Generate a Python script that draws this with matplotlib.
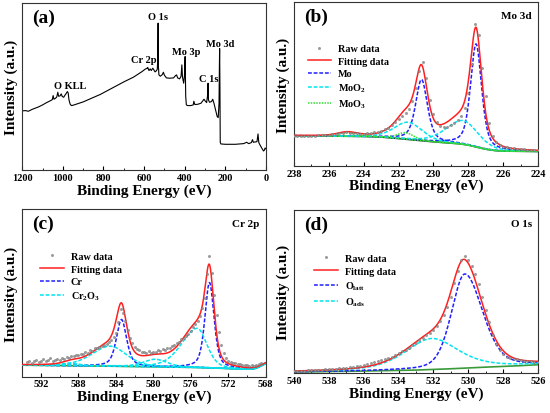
import numpy as np
import matplotlib.pyplot as plt
from matplotlib.lines import Line2D
from matplotlib.ticker import MultipleLocator

plt.rcParams['font.family'] = 'Liberation Serif'
plt.rcParams['font.weight'] = 'bold'
plt.rcParams['axes.labelweight'] = 'bold'
plt.rcParams['mathtext.fontset'] = 'custom'
plt.rcParams['mathtext.rm'] = 'Liberation Serif:bold'
plt.rcParams['mathtext.bf'] = 'Liberation Serif:bold'
plt.rcParams['mathtext.default'] = 'bf'

# ---------------- (a) survey spectrum ----------------
survey_e = [1200, 1185, 1170, 1150, 1120, 1100, 1080, 1060, 1052, 1048, 1044, 1036,
            1030, 1025, 1021, 1014, 1008, 1003, 996, 990, 984, 978, 974, 970, 964,
            958, 950, 930, 900, 870, 840, 817, 780, 740, 700, 653, 630, 610, 595,
            585, 582, 576, 570, 565, 557, 552, 546, 540, 535, 533, 531, 529.5, 527,
            520, 510, 505, 500, 490, 475, 455, 445, 440, 435, 425, 418, 414, 411,
            405, 401, 398, 395, 392, 385, 370, 358, 355, 350, 335, 320, 310, 305,
            298, 292, 288, 285, 283, 278, 268, 262, 256, 248, 240, 235, 231, 229,
            228, 226.5, 225, 222, 200, 150, 110, 95, 85, 72, 66, 62, 52, 44, 39,
            35, 30, 20, 12, 8, 4, 0]
survey_i = [35.4, 35.6, 35.2, 36.4, 37.8, 39.0, 40.4, 41.6, 42.2, 44.6, 42.4, 43.0,
            43.8, 46.6, 44.2, 44.4, 45.6, 44.0, 43.6, 44.8, 45.8, 47.0, 46.2, 42.0, 39.4,
            38.6, 38.8, 39.6, 40.8, 42.4, 44.0, 45.2, 47.6, 50.2, 52.8, 55.6, 57.4, 59.0, 60.4,
            61.0, 61.4, 59.6, 60.6, 59.6, 61.0, 60.0, 58.8, 59.4, 60.4, 66.0, 88.0, 62.0, 57.0,
            56.2, 57.2, 58.6, 56.8, 55.2, 55.0, 55.2, 56.6, 57.0, 55.2, 54.6, 56.2, 63.0, 55.6,
            52.0, 57.0, 68.0, 44.0, 39.0, 38.6, 38.6, 39.0, 41.2, 39.2, 39.4, 40.0, 41.6, 42.4,
            41.2, 40.4, 44.0, 52.0, 42.0, 40.6, 41.0, 42.4, 40.0, 36.0, 32.0, 31.4, 40.0, 64.0,
            72.8, 50.0, 16.6, 15.6, 15.4, 15.4, 15.8, 16.6, 15.8, 16.4, 18.2, 16.6, 16.8, 17.0, 21.6,
            16.4, 15.2, 13.0, 11.4, 11.8, 13.2, 12.6]
survey_labels = ['O KLL', 'Cr 2p', 'O 1s', 'Mo 3p', 'C 1s', 'Mo 3d']
survey_label_e = [965, 603, 534, 395, 283, 227]
survey_label_i = [48, 63.4, 89.4, 68.4, 52, 73.4]

# ---------------- (b) Mo 3d ----------------
mo_raw_range = (238.0, 224.0)
mo_raw = [18.4, 18.3, 18.5, 18.4, 18.3,
          18.5, 18.5, 18.7, 18.8, 18.9,
          19.1, 19.3, 19.6, 19.9, 20.3,
          20.5, 20.3, 20.1, 19.8, 19.7,
          19.6, 19.8, 20.1, 20.6, 21.0,
          21.6, 22.3, 23.4, 24.8, 26.6,
          28.4, 30.2, 32.3, 34.9, 39.6,
          47.5, 58.0, 63.6, 53.5, 40.0,
          31.4, 26.8, 24.6, 23.9, 23.9,
          24.8, 26.1, 27.9, 30.6, 35.6,
          44.5, 62.5, 86.5, 80.0, 60.0,
          42.5, 26.5, 18.0, 14.4, 12.7,
          11.8, 11.3, 11.0, 10.7, 10.4,
          10.2, 10.0, 9.9, 9.8, 9.7,
          9.6]
mo_bg_e = [238, 236, 234, 233, 232, 231, 230, 229, 228.5, 228, 227.5, 227, 226.5, 226, 224]
mo_bg_i = [18.4, 18.2, 18.0, 17.6, 16.7, 15.7, 14.7, 13.9, 13.5, 12.7, 11.4, 10.2, 9.4, 9.0, 8.8]
# fitted components: center, height, width on low/high BE side, lorentz fraction
mo_names = ['Mo', 'Mo', 'MoO$_2$', 'MoO$_2$', 'MoO$_3$', 'MoO$_3$']
mo_center = [227.55, 230.68, 228.3, 231.45, 231.6, 234.95]
mo_height = [63.0, 37.4, 14.5, 10.5, 4.0, 2.2]
mo_wlow = [0.75, 0.8, 2.0, 1.9, 1.1, 1.3]
mo_whigh = [0.75, 0.8, 2.3, 1.9, 1.1, 1.3]
mo_eta = [0.5, 0.5, 0.3, 0.3, 0.3, 0.3]

# ---------------- (c) Cr 2p ----------------
cr_raw_range = (593.5, 568.5)
cr_raw = [8.9, 9.6, 8.4, 9.3,
          10.0, 8.9, 9.5, 10.3,
          9.2, 9.9, 11.0, 9.6,
          10.2, 10.8, 10.0, 11.2,
          10.6, 11.8, 11.3, 12.4,
          12.0, 12.9, 12.6, 13.5,
          13.4, 14.6, 14.3, 15.6,
          15.4, 16.8, 16.9, 17.6,
          18.3, 18.9, 19.6, 20.4,
          21.8, 23.6, 26.0, 32.5,
          40.5, 38.0, 33.0, 27.8,
          22.9, 19.8, 17.5, 16.2,
          15.8, 14.6, 14.9, 14.2,
          15.0, 14.1, 14.8, 14.4,
          15.6, 15.0, 16.2, 15.9,
          17.3, 16.9, 18.0, 18.6,
          19.8, 20.9, 22.4, 23.1,
          24.5, 25.6, 27.4, 29.6,
          31.2, 33.5, 36.0, 40.8,
          47.0, 61.5, 72.0, 62.0,
          49.0, 37.0, 26.8, 18.9,
          13.8, 10.9, 9.3, 8.8,
          8.2, 8.0, 7.4, 7.3,
          7.0, 6.9, 6.9, 6.6,
          6.8, 6.6, 7.0, 7.3,
          8.1]
cr_bg_e = [594, 590, 586, 582, 578, 575, 573, 571, 570, 569.5, 569, 568.5, 568]
cr_bg_i = [6.8, 6.6, 6.3, 6.0, 5.7, 5.4, 5.0, 4.6, 4.4, 4.5, 5.0, 6.3, 7.8]
cr_names = ['Cr', 'Cr', 'Cr$_2$O$_3$', 'Cr$_2$O$_3$', 'Cr$_2$O$_3$', 'Cr$_2$O$_3$']
cr_center = [574.0, 583.4, 575.3, 584.6, 579.8, 588.8]
cr_height = [51.0, 28.0, 23.4, 12.0, 4.5, 1.5]
cr_wlow = [1.15, 1.3, 2.4, 4.0, 3.0, 2.0]
cr_whigh = [1.15, 1.3, 4.0, 4.6, 3.0, 2.0]
cr_eta = [0.5, 0.5, 0.3, 0.3, 0.3, 0.3]

# ---------------- (d) O 1s ----------------
o_raw_range = (540.0, 526.0)
o_raw = [1.2, 1.0, 1.5, 1.3, 1.6,
         1.8, 1.6, 2.1, 1.9, 2.4,
         2.3, 2.6, 2.5, 3.0, 2.9,
         3.3, 3.5, 3.9, 4.2, 4.4,
         5.1, 5.4, 6.0, 6.6, 7.1,
         7.9, 8.6, 9.4, 10.1, 11.2,
         12.0, 13.2, 14.3, 15.6, 17.0,
         18.4, 20.0, 21.4, 23.1, 24.8,
         26.6, 28.9, 31.8, 35.5, 40.6,
         46.8, 55.0, 62.5, 69.0, 71.5,
         69.0, 65.5, 60.5, 54.5, 46.5,
         38.5, 31.0, 23.5, 18.0, 14.0,
         11.5, 10.0, 9.2, 8.7, 8.3,
         8.0, 7.6, 7.6, 7.2, 7.0,
         6.8]
o_bg_e = [540, 536, 533, 531, 529, 527, 526]
o_bg_i = [0.6, 1.2, 1.8, 2.6, 3.6, 4.5, 5.1]
o_names = ['O$_{latt}$', 'O$_{ads}$']
o_center = [530.2, 532.1]
o_height = [57.7, 19.0]
o_wlow = [2.4, 3.6]
o_whigh = [1.8, 3.6]
o_eta = [0.3, 0.5]


def peak(x, c, h, wl, wh, eta):
    w = np.where(x < c, wl, wh)
    u = (x - c) / w
    return h * ((1 - eta) * np.exp(-4 * np.log(2) * u ** 2) + eta / (1 + 4 * u ** 2))


fig = plt.figure(figsize=(5.5, 4.14), dpi=100)
positions = [[0.0405, 0.587, 0.443, 0.403],
             [0.5345, 0.597, 0.4436, 0.395],
             [0.0405, 0.088, 0.4425, 0.404],
             [0.5345, 0.0966, 0.4436, 0.394]]
axes = [fig.add_axes(p) for p in positions]


def style_axis(ax, xlim, major, minor, tag):
    ax.set_xlim(*xlim)
    ax.set_ylim(0, 100)
    ax.set_yticks([])
    ax.xaxis.set_major_locator(MultipleLocator(major))
    ax.xaxis.set_minor_locator(MultipleLocator(minor))
    ax.tick_params(axis='x', which='major', direction='in', length=3, width=0.8,
                   labelsize=7.5, pad=2)
    ax.tick_params(axis='x', which='minor', direction='in', length=1.8, width=0.6)
    for s in ax.spines.values():
        s.set_linewidth(0.8)
        s.set_color('#333333')
    ax.set_xlabel('Binding Energy (eV)', fontsize=11, labelpad=1)
    ax.set_ylabel('Intensity (a.u.)', fontsize=11, labelpad=3)
    ax.text(0.04, 0.965, tag, transform=ax.transAxes, fontsize=14,
            fontweight='bold', va='top', ha='left')


# (a)
ax = axes[0]
ax.plot(survey_e, survey_i, color='black', lw=0.8)
for lab, xe, yi in zip(survey_labels, survey_label_e, survey_label_i):
    ax.text(xe, yi, lab, fontsize=7.5, fontweight='bold', ha='center', va='bottom')
style_axis(ax, (1200, 0), 200, 100, '(a)')


def fit_panel(ax, xlim, raw_range, raw, bg_e, bg_i, names, cen, hei, wl, wh, eta,
              colors, styles, bg_color, title, leg_anchor):
    x_raw = np.linspace(raw_range[0], raw_range[1], len(raw))
    x = np.linspace(xlim[0], xlim[1], 800)
    bg = np.interp(x, bg_e[::-1], bg_i[::-1])
    total = bg.copy()
    comps = []
    for n, c, h, a, b, et in zip(names, cen, hei, wl, wh, eta):
        p = peak(x, c, h, a, b, et)
        total += p
        comps.append((n, bg + p))
    ax.plot(bg_e, bg_i, color=bg_color, lw=1.2, zorder=2)
    for n, y in comps:
        ax.plot(x, y, color=colors[n], ls=styles[n], lw=1.1, zorder=3)
    ax.plot(x, total, color='#ff2020', lw=1.1, zorder=4)
    ax.plot(x_raw, raw, ls='none', marker='o', ms=1.6, mfc='#9a9a9a',
            mec='#6a6a6a', mew=0.3, zorder=5)
    handles = [Line2D([], [], ls='none', marker='o', ms=1.6, mfc='#9a9a9a',
                      mec='#6a6a6a', mew=0.3),
               Line2D([], [], color='#ff2020', lw=1.1)]
    labels = ['Raw data', 'Fitting data']
    for n in dict.fromkeys(names):
        handles.append(Line2D([], [], color=colors[n], ls=styles[n], lw=1.1))
        labels.append(n)
    ax.legend(handles, labels, loc='upper left', bbox_to_anchor=leg_anchor,
              frameon=False, fontsize=7.3, handlelength=2.3, handletextpad=0.7,
              labelspacing=0.35, borderaxespad=0, numpoints=1)
    ax.text(0.975, 0.945, title, transform=ax.transAxes, fontsize=8,
            fontweight='bold', ha='right', va='top')


dash = (0, (2.5, 1.2))
fit_panel(axes[1], (238, 224), mo_raw_range, mo_raw, mo_bg_e, mo_bg_i, mo_names,
          mo_center, mo_height, mo_wlow, mo_whigh, mo_eta,
          {'Mo': '#1f1fff', 'MoO$_2$': '#00e5ee', 'MoO$_3$': '#33dd33'},
          {'Mo': dash, 'MoO$_2$': dash, 'MoO$_3$': (0, (1, 0.8))},
          '#1d3f33', 'Mo 3d', (0.04, 0.77))
style_axis(axes[1], (238, 224), 2, 1, '(b)')

fit_panel(axes[2], (594, 568), cr_raw_range, cr_raw, cr_bg_e, cr_bg_i, cr_names,
          cr_center, cr_height, cr_wlow, cr_whigh, cr_eta,
          {'Cr': '#1f1fff', 'Cr$_2$O$_3$': '#00e5ee'},
          {'Cr': dash, 'Cr$_2$O$_3$': dash},
          '#3a9a3a', 'Cr 2p', (0.057, 0.77))
style_axis(axes[2], (594, 568), 4, 2, '(c)')

fit_panel(axes[3], (540, 526), o_raw_range, o_raw, o_bg_e, o_bg_i, o_names,
          o_center, o_height, o_wlow, o_whigh, o_eta,
          {'O$_{latt}$': '#1f1fff', 'O$_{ads}$': '#00e5ee'},
          {'O$_{latt}$': dash, 'O$_{ads}$': dash},
          '#3a9a3a', 'O 1s', (0.067, 0.755))
style_axis(axes[3], (540, 526), 2, 1, '(d)')

fig.savefig('out.png', dpi=100)
